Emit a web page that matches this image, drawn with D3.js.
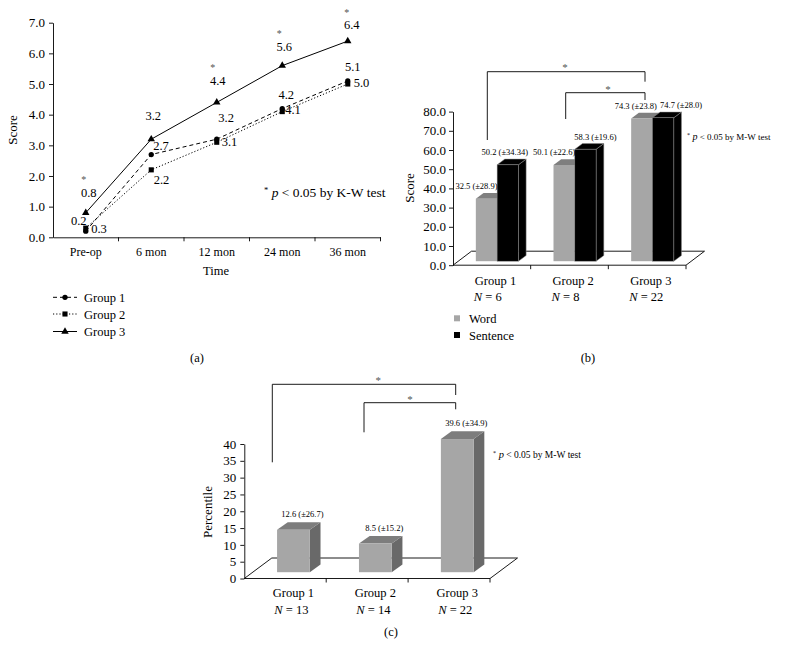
<!DOCTYPE html>
<html><head><meta charset="utf-8">
<script src="https://cdn.jsdelivr.net/npm/d3@7/dist/d3.min.js"></script>
<style>
body{margin:0;background:#fff}
svg text{font-family:"Liberation Serif","Times New Roman",serif;fill:#000}
</style>
</head><body>
<svg id="fig" width="786" height="658" font-family="Liberation Serif, serif"></svg>
<script>
// ---------------- DATA ----------------
// Panel (a)
const timepoints = ["Pre-op", "6 mon", "12 mon", "24 mon", "36 mon"];
const group1Scores = [0.2, 2.7, 3.2, 4.2, 5.1];
const group2Scores = [0.3, 2.2, 3.1, 4.1, 5.0];
const group3Scores = [0.8, 3.2, 4.4, 5.6, 6.4];
const group3Significant = [true, false, true, true, true];
const scoreTicksA = [0, 1, 2, 3, 4, 5, 6, 7];
const seriesNamesA = ["Group 1", "Group 2", "Group 3"];

// Panel (b)
const groupsB = ["Group 1", "Group 2", "Group 3"];
const groupNB = [6, 8, 22];
const wordScores = [32.5, 50.1, 74.3];
const wordSD = ["28.9", "22.6", "23.8"];
const sentenceScores = [50.2, 58.3, 74.7];
const sentenceSD = ["34.34", "19.6", "28.0"];
const scoreTicksB = [0, 10, 20, 30, 40, 50, 60, 70, 80];
const seriesNamesB = ["Word", "Sentence"];

// Panel (c)
const groupsC = ["Group 1", "Group 2", "Group 3"];
const groupNC = [13, 14, 22];
const percentiles = [12.6, 8.5, 39.6];
const percentileSD = ["26.7", "15.2", "34.9"];
const percentileTicks = [0, 5, 10, 15, 20, 25, 30, 35, 40];

// ---------------- DRAWING ----------------
const svg = d3.select("#fig");
svg.append("rect").attr("width", 786).attr("height", 658).attr("fill", "#fff");

function styleAxis(g, fs) {
  g.selectAll("path, line").attr("stroke", "#000").attr("stroke-width", 0.9);
  g.selectAll("text").attr("font-size", fs).attr("fill", "#000")
    .attr("font-family", "'Liberation Serif', serif");
}

// ===== Panel (a) =====
(function () {
  const x = d3.scaleBand().domain(timepoints).range([53, 380.5]).paddingInner(0).paddingOuter(0);
  const y = d3.scaleLinear().domain([0, 7]).range([237.3, 22.7]);
  const g = svg.append("g");
  const cx = d => x(d) + x.bandwidth() / 2;

  const ya = g.append("g").attr("transform", "translate(53,0)")
    .call(d3.axisLeft(y).tickValues(scoreTicksA).tickFormat(d3.format(".1f")).tickSize(4).tickSizeOuter(0).tickPadding(4));
  styleAxis(ya, 13);

  const xa = g.append("g").attr("transform", `translate(0,${y(0)})`)
    .call(d3.axisBottom(x).tickSize(0).tickSizeOuter(0).tickPadding(10));
  styleAxis(xa, 12);
  xa.selectAll(".tick text").attr("dy", "0.71em");
  g.selectAll("line.bt").data(timepoints).join("line")
    .attr("x1", d => x(d) + x.bandwidth()).attr("x2", d => x(d) + x.bandwidth())
    .attr("y1", y(0)).attr("y2", y(0) + 4).attr("stroke", "#000").attr("stroke-width", 0.9);

  g.append("text").attr("transform", "translate(17,130) rotate(-90)")
    .attr("text-anchor", "middle").attr("font-size", 13).text("Score");
  g.append("text").attr("x", 216).attr("y", 275).attr("text-anchor", "middle")
    .attr("font-size", 12.5).text("Time");

  const series = [
    { name: seriesNamesA[0], vals: group1Scores, dash: "4,3", sym: d3.symbolCircle, size: 22 },
    { name: seriesNamesA[1], vals: group2Scores, dash: "1.2,2", sym: d3.symbolSquare, size: 26 },
    { name: seriesNamesA[2], vals: group3Scores, dash: null, sym: d3.symbolTriangle, size: 24 }
  ];
  const line = d3.line().x((d, i) => cx(timepoints[i])).y(d => y(d));
  series.forEach(s => {
    g.append("path").datum(s.vals).attr("d", line).attr("fill", "none")
      .attr("stroke", "#000").attr("stroke-width", 1)
      .attr("stroke-dasharray", s.dash);
  });
  series.forEach(s => {
    g.selectAll(null).data(s.vals).join("path")
      .attr("transform", (d, i) => `translate(${cx(timepoints[i])},${y(d)})`)
      .attr("d", d3.symbol().type(s.sym).size(s.size)).attr("fill", "#000");
  });

  // value label placement (layout offsets relative to each point)
  const off = [
    [[-7, -6.5], [9.7, -4.8], [9.4, -16.9], [4, -9.5], [5, -10]],
    [[13.3, 4.9], [10.3, 14], [12.7, 3.5], [10.7, 2.4], [13.7, 3.3]],
    [[3, -16], [2, -19], [1, -17.7], [2, -15], [4, -12]]
  ];
  series.forEach((s, si) => {
    s.vals.forEach((v, i) => {
      const px = cx(timepoints[i]) + off[si][i][0], py = y(v) + off[si][i][1];
      g.append("text").attr("x", px).attr("y", py).attr("text-anchor", "middle")
        .attr("font-size", 12.5).text(d3.format(".1f")(v));
      if (si === 2 && group3Significant[i]) {
        g.append("text").attr("x", px - 5).attr("y", py - 13.5).attr("text-anchor", "middle")
          .attr("font-size", 10).style("fill", "#555").text("*");
      }
    });
  });

  const note = g.append("text").attr("x", 264).attr("y", 197).attr("font-size", 13.5);
  note.append("tspan").attr("font-size", 8.5).attr("dy", -4).text("*");
  note.append("tspan").attr("dy", 4).attr("font-style", "italic").text(" p");
  note.append("tspan").text(" < 0.05 by K-W test");

  // legend
  const ly = [297.3, 314, 331.5];
  series.forEach((s, i) => {
    g.append("line").attr("x1", 53).attr("x2", 77).attr("y1", ly[i]).attr("y2", ly[i])
      .attr("stroke", "#000").attr("stroke-width", 1).attr("stroke-dasharray", s.dash);
    g.append("path").attr("transform", `translate(65,${ly[i]})`)
      .attr("d", d3.symbol().type(s.sym).size(s.size)).attr("fill", "#000");
    g.append("text").attr("x", 84).attr("y", ly[i] + 4.5).attr("font-size", 12.5).text(s.name);
  });
  g.append("text").attr("x", 197).attr("y", 361.5).attr("text-anchor", "middle").attr("font-size", 12.5).text("(a)");
})();

// helper for 3D bars
function bar3d(g, x0, x1, yTop, yBot, dx, dy, cFront, cTop, cSide, stroke) {
  g.append("polygon").attr("points", [[x1, yTop], [x1 + dx, yTop + dy], [x1 + dx, yBot + dy], [x1, yBot]].join(" "))
    .attr("fill", cSide).attr("stroke", stroke || "none").attr("stroke-width", 0.5);
  g.append("polygon").attr("points", [[x0, yTop], [x0 + dx, yTop + dy], [x1 + dx, yTop + dy], [x1, yTop]].join(" "))
    .attr("fill", cTop).attr("stroke", stroke || "none").attr("stroke-width", 0.5);
  g.append("rect").attr("x", x0).attr("y", yTop).attr("width", x1 - x0).attr("height", yBot - yTop)
    .attr("fill", cFront).attr("stroke", stroke || "none").attr("stroke-width", 0.5);
}

// ===== Panel (b) =====
(function () {
  const g = svg.append("g");
  const x = d3.scaleBand().domain(groupsB).range([453, 686]);
  const y = d3.scaleLinear().domain([0, 80]).range([265.2, 111.6]);
  const sub = d3.scaleBand().domain(seriesNamesB).range([-21.3, 21.3]);
  const fdx = 5.3, fdy = -4, bdx = 7.7, bdy = -5.7, Dx = 18.5, Dy = -14;
  const y0 = y(0);

  g.append("path").attr("d", `M${453},${y0} L${453 + Dx},${y0 + Dy} L${686 + Dx},${y0 + Dy} L${686},${y0}`)
    .attr("fill", "none").attr("stroke", "#000").attr("stroke-width", 0.9);

  const ya = g.append("g").attr("transform", "translate(453,0)")
    .call(d3.axisLeft(y).tickValues(scoreTicksB).tickFormat(d3.format(".1f")).tickSize(4).tickSizeOuter(0).tickPadding(3));
  styleAxis(ya, 13);
  g.append("line").attr("x1", 453).attr("x2", 686).attr("y1", y0).attr("y2", y0).attr("stroke", "#000").attr("stroke-width", 0.9);
  g.selectAll(null).data(groupsB).join("line")
    .attr("x1", d => x(d) + x.bandwidth()).attr("x2", d => x(d) + x.bandwidth())
    .attr("y1", y0).attr("y2", y0 + 4).attr("stroke", "#000").attr("stroke-width", 0.9);

  const vals = [wordScores, sentenceScores];
  const sds = [wordSD, sentenceSD];
  const cols = [["#a6a6a6", "#7f7f7f", "#6b6b6b", null], ["#000", "#000", "#000", "#8a8a8a"]];
  const labShift = [[-10, -10, -6], [-3, 10, 18]];
  groupsB.forEach((gr, i) => {
    const c = x(gr) + x.bandwidth() / 2 + fdx;
    seriesNamesB.forEach((s, si) => {
      const x0 = c + sub(s), x1 = x0 + sub.bandwidth();
      const yt = y(vals[si][i]) + fdy;
      bar3d(g, x0, x1, yt, y0 + fdy, bdx, bdy, cols[si][0], cols[si][1], cols[si][2], cols[si][3]);
    });
  });
  groupsB.forEach((gr, i) => {
    const c = x(gr) + x.bandwidth() / 2 + fdx;
    seriesNamesB.forEach((s, si) => {
      const x0 = c + sub(s), x1 = x0 + sub.bandwidth();
      const yt = y(vals[si][i]) + fdy;
      g.append("text").attr("x", (x0 + x1) / 2 + labShift[si][i]).attr("y", yt + bdy - 4)
        .attr("text-anchor", "middle").attr("font-size", 8.5)
        .text(`${d3.format(".1f")(vals[si][i])} (\u00b1${sds[si][i]})`);
    });
    g.append("text").attr("x", x(gr) + x.bandwidth() / 2 - 17).attr("y", 284.5).attr("font-size", 12.5).text(gr);
    const t = g.append("text").attr("x", x(gr) + x.bandwidth() / 2 - 18).attr("y", 300.5).attr("font-size", 12.5);
    t.append("tspan").attr("font-style", "italic").text("N");
    t.append("tspan").text(` = ${groupNB[i]}`);
  });

  const br = (xa, ya1, yt, xb, yb) => g.append("path")
    .attr("d", `M${xa},${ya1} V${yt} H${xb} V${yb}`).attr("fill", "none").attr("stroke", "#000").attr("stroke-width", 0.9);
  br(487.3, 140, 71.7, 645, 81.7);
  br(565.7, 119, 92.7, 645, 100);
  g.append("text").attr("x", 565).attr("y", 71).attr("text-anchor", "middle").attr("font-size", 11).style("fill", "#555").text("*");
  g.append("text").attr("x", 608).attr("y", 92.5).attr("text-anchor", "middle").attr("font-size", 11).style("fill", "#555").text("*");

  const note = g.append("text").attr("x", 687).attr("y", 139.5).attr("font-size", 9);
  note.append("tspan").attr("font-size", 6).attr("dy", -3).text("*");
  note.append("tspan").attr("dy", 3).attr("font-style", "italic").attr("font-size", 10).text(" p");
  note.append("tspan").text(" < 0.05 by M-W test");

  g.append("text").attr("transform", "translate(414,188) rotate(-90)").attr("text-anchor", "middle").attr("font-size", 13).text("Score");

  const ly = [318.3, 335];
  seriesNamesB.forEach((s, i) => {
    g.append("rect").attr("x", 454).attr("y", ly[i] - 3).attr("width", 6).attr("height", 6).attr("fill", cols[i][0]);
    g.append("text").attr("x", 469).attr("y", ly[i] + 4.5).attr("font-size", 12.5).text(s);
  });
  g.append("text").attr("x", 588).attr("y", 362).attr("text-anchor", "middle").attr("font-size", 12.5).text("(b)");
})();

// ===== Panel (c) =====
(function () {
  const g = svg.append("g");
  const x = d3.scaleBand().domain(groupsC).range([244.3, 490]);
  const y = d3.scaleLinear().domain([0, 40]).range([578.5, 444]);
  const fdx = 8.2, fdy = -6.3, bdx = 10.7, bdy = -7.7, Dx = 27.5, Dy = -20.5;
  const y0 = y(0);
  const bw = x.bandwidth() * 0.4;

  g.append("path").attr("d", `M${244.3},${y0} L${244.3 + Dx},${y0 + Dy} L${490 + Dx},${y0 + Dy} L${490},${y0}`)
    .attr("fill", "none").attr("stroke", "#000").attr("stroke-width", 0.9);
  const ya = g.append("g").attr("transform", "translate(244.3,0)")
    .call(d3.axisLeft(y).tickValues(percentileTicks).tickFormat(d3.format("d")).tickSize(4).tickSizeOuter(0).tickPadding(4));
  styleAxis(ya, 13);
  g.append("line").attr("x1", 244.3).attr("x2", 490).attr("y1", y0).attr("y2", y0).attr("stroke", "#000").attr("stroke-width", 0.9);
  g.selectAll(null).data(groupsC).join("line")
    .attr("x1", d => x(d) + x.bandwidth()).attr("x2", d => x(d) + x.bandwidth())
    .attr("y1", y0).attr("y2", y0 + 4).attr("stroke", "#000").attr("stroke-width", 0.9);

  groupsC.forEach((gr, i) => {
    const c = x(gr) + x.bandwidth() / 2 + fdx;
    const x0 = c - bw / 2, x1 = c + bw / 2, yt = y(percentiles[i]) + fdy;
    bar3d(g, x0, x1, yt, y0 + fdy, bdx, bdy, "#a6a6a6", "#7d7d7d", "#696969", null);
    g.append("text").attr("x", c + 9).attr("y", yt + bdy - 5).attr("text-anchor", "middle").attr("font-size", 8.5)
      .text(`${d3.format(".1f")(percentiles[i])} (\u00b1${percentileSD[i]})`);
    g.append("text").attr("x", c).attr("y", 597).attr("text-anchor", "middle").attr("font-size", 12.5).text(gr);
    const t = g.append("text").attr("x", c - 2).attr("y", 614).attr("text-anchor", "middle").attr("font-size", 12.5);
    t.append("tspan").attr("font-style", "italic").text("N");
    t.append("tspan").text(` = ${groupNC[i]}`);
  });

  const br = (xa, ya1, yt, xb, yb) => g.append("path")
    .attr("d", `M${xa},${ya1} V${yt} H${xb} V${yb}`).attr("fill", "none").attr("stroke", "#000").attr("stroke-width", 0.9);
  br(272.3, 462.3, 384.3, 455.7, 395);
  br(364, 432.3, 402.7, 455.7, 409.3);
  g.append("text").attr("x", 378.3).attr("y", 384).attr("text-anchor", "middle").attr("font-size", 11).style("fill", "#555").text("*");
  g.append("text").attr("x", 410).attr("y", 403).attr("text-anchor", "middle").attr("font-size", 11).style("fill", "#555").text("*");

  const note = g.append("text").attr("x", 493).attr("y", 457.5).attr("font-size", 9.5);
  note.append("tspan").attr("font-size", 6).attr("dy", -3).text("*");
  note.append("tspan").attr("dy", 3).attr("font-style", "italic").attr("font-size", 10.5).text(" p");
  note.append("tspan").text(" < 0.05 by M-W test");

  g.append("text").attr("transform", "translate(212,512) rotate(-90)").attr("text-anchor", "middle").attr("font-size", 13).text("Percentile");
  g.append("text").attr("x", 391).attr("y", 636).attr("text-anchor", "middle").attr("font-size", 12.5).text("(c)");
})();
</script>
</body></html>
